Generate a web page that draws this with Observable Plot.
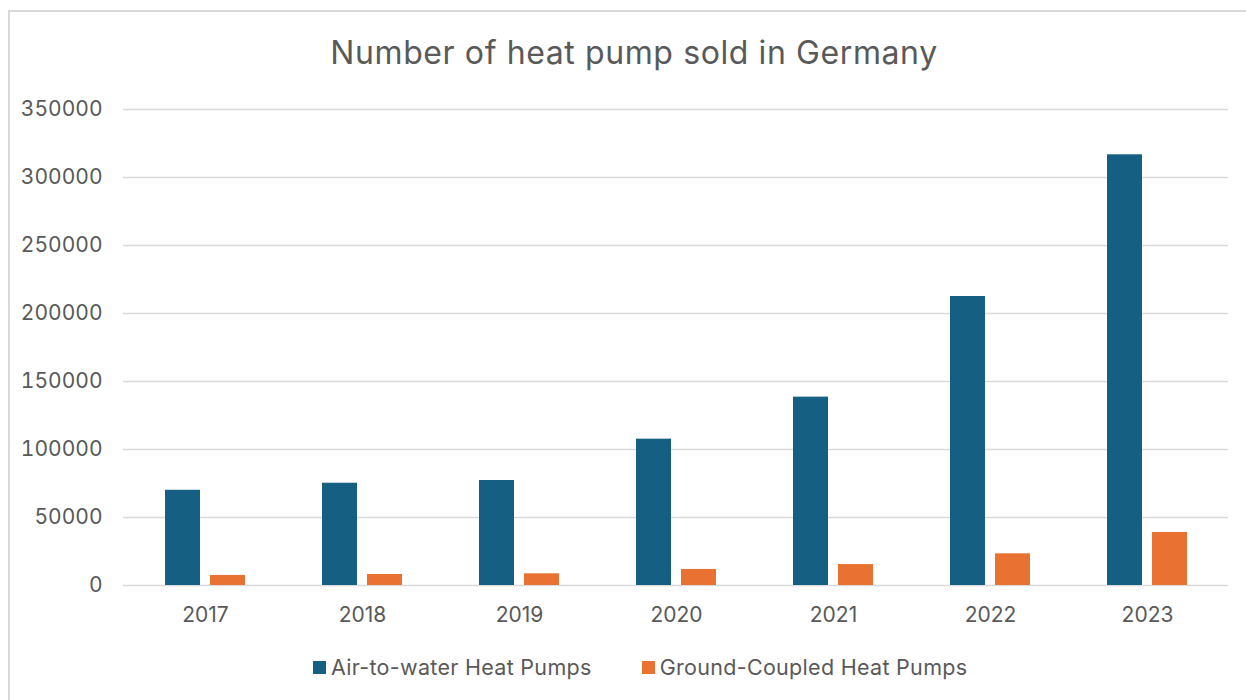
<!DOCTYPE html>
<html>
<head>
<meta charset="utf-8">
<script src="https://cdn.jsdelivr.net/npm/d3@7"></script>
<script src="https://cdn.jsdelivr.net/npm/@observablehq/plot@0.6"></script>
<style>
  html, body { margin: 0; padding: 0; background: #fff; width: 1246px; height: 700px; overflow: hidden; }
  #frame { position: absolute; left: 8px; top: 10px; width: 1260px; height: 710px; border: 2px solid #d9d9d9; box-sizing: border-box; }
  #title { position: absolute; left: 8px; width: 1252px; top: 33px; text-align: center; font-family: Inter, "Liberation Sans", sans-serif; font-size: 32px; line-height: 40px; color: #595959; letter-spacing: 0.6px; }
  #chart { position: absolute; left: 0; top: 90px; }
  #legend { position: absolute; left: 313px; top: 654px; height: 26px; display: flex; align-items: center; font-family: Inter, "Liberation Sans", sans-serif; font-size: 21.5px; letter-spacing: 0.3px; color: #595959; }
  .item { display: flex; align-items: center; }
  .sw { width: 13px; height: 13px; margin-right: 5px; }
</style>
</head>
<body>
<div id="frame"></div>
<div id="title"></div>
<div id="chart"></div>
<div id="legend"></div>
<script>
const titleText = "Number of heat pump sold in Germany";
const years = ["2017", "2018", "2019", "2020", "2021", "2022", "2023"];
const airToWater = [70000, 75200, 77200, 107600, 138500, 212500, 316700];
const groundCoupled = [7400, 8100, 8600, 11800, 15400, 23300, 39000];
const seriesNames = ["Air-to-water Heat Pumps", "Ground-Coupled Heat Pumps"];
const seriesColors = ["#156082", "#E97132"];
const yTicks = [0, 50000, 100000, 150000, 200000, 250000, 300000, 350000];

const data = years.map((year, i) => ({year, air: airToWater[i], ground: groundCoupled[i]}));

document.getElementById("title").textContent = titleText;

const font = "Inter, 'Liberation Sans', sans-serif";
const chart = Plot.plot({
  width: 1246,
  height: 550,
  marginLeft: 123,
  marginRight: 18,
  marginTop: 19,
  marginBottom: 55,
  style: {fontFamily: font, fontSize: "21px", color: "#595959", background: "transparent"},
  x: {domain: years, paddingInner: 0.492, paddingOuter: 0.246, label: null},
  y: {domain: [0, 350000], label: null},
  marks: [
    Plot.gridY(yTicks, {stroke: "#d9d9d9", strokeOpacity: 1, strokeWidth: 1.5}),
    Plot.barY(data, {x: "year", y: "air", fill: seriesColors[0], insetRight: 45}),
    Plot.barY(data, {x: "year", y: "ground", fill: seriesColors[1], insetLeft: 45}),
    Plot.axisY(yTicks, {tickSize: 0, tickPadding: 21, tickFormat: d3.format("d"), fill: "#595959", label: null}),
    Plot.axisX({tickSize: 0, tickPadding: 22, fill: "#595959", label: null})
  ]
});
document.getElementById("chart").appendChild(chart);

const legend = document.getElementById("legend");
seriesNames.forEach((name, i) => {
  const item = document.createElement("div");
  item.className = "item";
  if (i > 0) item.style.marginLeft = "50px";
  const sw = document.createElement("div");
  sw.className = "sw";
  sw.style.background = seriesColors[i];
  const label = document.createElement("span");
  label.textContent = name;
  item.appendChild(sw);
  item.appendChild(label);
  legend.appendChild(item);
});
</script>
</body>
</html>
